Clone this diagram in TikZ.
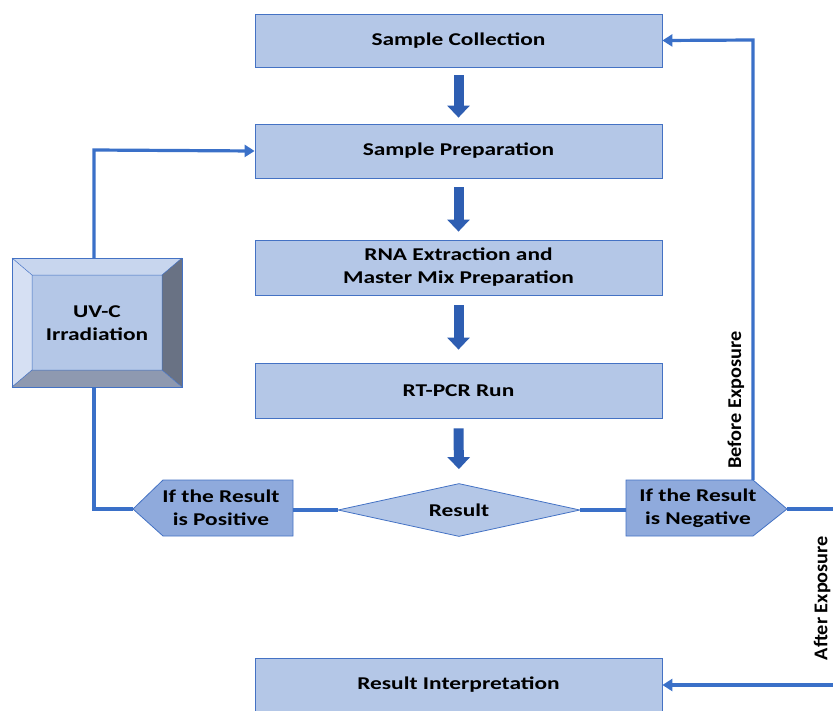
\documentclass[tikz,border=0pt]{standalone}
\usepackage{fontspec}
\setmainfont{Carlito}
\newfontfamily\labfont{Carlito}[FakeStretch=1.3]
\newfontfamily\rotfont{Carlito}[FakeStretch=1.04]
\usetikzlibrary{arrows.meta,shapes.geometric}
\definecolor{boxfill}{RGB}{180,199,231}
\definecolor{boxline}{RGB}{68,114,196}
\definecolor{conn}{RGB}{58,112,200}
\definecolor{darkfill}{RGB}{143,170,220}
\definecolor{blk}{RGB}{46,94,178}
\definecolor{bevtop}{RGB}{200,214,238}
\definecolor{bevleft}{RGB}{214,224,243}
\definecolor{bevright}{RGB}{105,114,132}
\definecolor{bevbot}{RGB}{142,153,176}
\begin{document}
\begin{tikzpicture}[x=1pt,y=-1pt,
  stepbox/.style={draw=boxline,fill=boxfill,line width=0.8pt,minimum width=407pt,
    inner sep=0pt,align=center,font=\labfont\bfseries\fontsize{18}{23}\selectfont},
  txt/.style={align=center,inner sep=0pt,font=\labfont\bfseries\fontsize{18}{23}\selectfont},
  rottxt/.style={rotate=90,inner sep=0pt,font=\rotfont\bfseries\fontsize{19.5}{22}\selectfont},
  blockarrow/.style={draw=blk,line width=10pt,-{Triangle[length=12pt,width=22pt]}},
  connline/.style={draw=conn,line width=3.2pt},
  connarrow/.style={connline,-{Triangle[length=10pt,width=12pt]}}]
\clip (0,0) rectangle (833,710);
% main boxes
\node[stepbox,minimum height=53pt] (coll) at (458.5,40.5) {Sample Collection};
\node[stepbox,minimum height=54pt] (prep) at (458.5,151) {Sample Preparation};
\node[stepbox,minimum height=55pt] (rna) at (458.5,267.5) {RNA Extraction and\\Master Mix Preparation};
\node[stepbox,minimum height=55pt] (pcr) at (458.5,390.5) {RT-PCR Run};
\node[stepbox,minimum height=54pt] (interp) at (458.5,685) {Result Interpretation};
% decision
\node[diamond,draw=boxline,fill=boxfill,line width=0.8pt,minimum width=242pt,
  minimum height=53pt,inner sep=0pt,aspect=4.5,
  font=\labfont\bfseries\fontsize{18}{23}\selectfont] (res) at (459,510) {Result};
% block arrows
\draw[blockarrow,shorten <=8pt,shorten >=6pt] (coll.south) -- (prep.north);
\draw[blockarrow,shorten <=9pt,shorten >=8pt] (prep.south) -- (rna.north);
\draw[blockarrow,shorten <=10pt,shorten >=13pt] (rna.south) -- (pcr.north);
\draw[blockarrow,shorten <=10pt,shorten >=14pt] (pcr.south) -- (res.north);
% positive pentagon
\coordinate (postip) at (133,509);
\coordinate (posE) at (293,509);
\fill[darkfill,draw=boxline,line width=0.8pt] (postip) -- (163,480) -- (293,480) -- (293,536) -- (163,536) -- cycle;
\node[txt] (pos) at (221,508) {If the Result\\is Positive};
% negative pentagon
\coordinate (negtip) at (787,509);
\coordinate (negW) at (626,509);
\coordinate (negT) at (753,480);
\fill[darkfill,draw=boxline,line width=0.8pt] (626,480) -- (753,480) -- (negtip) -- (753,536) -- (626,536) -- cycle;
\node[txt] (neg) at (698,508) {If the Result\\is Negative};
% UV-C bevel box
\coordinate (uvT) at (94,258);
\coordinate (uvB) at (94,387);
\fill[bevtop] (12,258) -- (182,258) -- (162,275) -- (32,275) -- cycle;
\fill[bevleft] (12,258) -- (32,275) -- (32,370) -- (12,387) -- cycle;
\fill[bevright] (182,258) -- (182,387) -- (162,370) -- (162,275) -- cycle;
\fill[bevbot] (12,387) -- (32,370) -- (162,370) -- (182,387) -- cycle;
\fill[boxfill] (32,275) rectangle (162,370);
\draw[boxline,line width=0.7pt] (12,258) rectangle (182,387);
\draw[boxline,line width=0.5pt] (32,275) rectangle (162,370)
  (12,258) -- (32,275) (182,258) -- (162,275) (12,387) -- (32,370) (182,387) -- (162,370);
\node[txt] (uv) at (97,323) {UV-C\\Irradiation};
% connectors
\draw[connline] (res.west) -- (res.west -| posE);
\draw[connline] (res.east) -- (res.east -| negW);
\draw[connline] (postip) -- (94,509) -- (uvB);
\draw[connarrow] (uvT) -- (94,150) -- (prep.west);
\draw[connarrow] (negT) -- (753,40) -- (coll.east);
\coordinate (farR) at (837,509);
\draw[connarrow] (negtip) -- (farR) -- (837,685) -- (interp.east);
% labels
\node[rottxt] (bef) at (736,400) {Before Exposure};
\node[rottxt] (aft) at (822,598) {After Exposure};
\end{tikzpicture}
\end{document}
